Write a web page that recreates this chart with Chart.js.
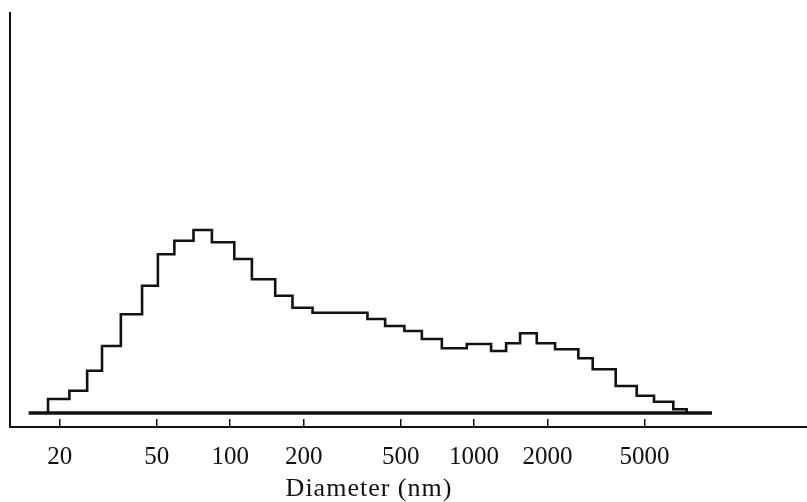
<!DOCTYPE html>
<html>
<head>
<meta charset="utf-8">
<script src="https://cdn.jsdelivr.net/npm/chart.js@4.4.1/dist/chart.umd.min.js"></script>
<style>
  body { margin: 0; background: #fff; }
  #wrap { width: 807px; height: 502px; }
</style>
</head>
<body>
<div id="wrap"><canvas id="myChart" width="807" height="502"></canvas></div>
<script>
// bin left edges (nm) and bin heights (arbitrary units), last edge closes the histogram
const binEdges = [17.9, 21.9, 25.9, 29.8, 35.6, 43.5, 50.5, 59.0, 70.7, 84.1, 103.9, 122.7, 152.9, 180.0, 217.5, 365.3, 431.7, 518.0, 610.6, 737.5, 933.4, 1174, 1353, 1544, 1807, 2148, 2676, 3065, 3808, 4644, 5467, 6559, 7441]
const binHeights = [14, 22.3, 42.3, 67, 98.7, 127.3, 158.7, 172.3, 183, 170.7, 154, 133.7, 117.3, 105.3, 100.3, 94, 87, 82, 74, 64.7, 69, 62, 69.7, 79.7, 69.7, 63.7, 54.7, 43.7, 27, 17.3, 11.3, 3.7, 0]
const baselineRange = [14.9, 9450]
const tickValues = [20, 50, 100, 200, 500, 1000, 2000, 5000]

const histPoints = [{ x: binEdges[0], y: 0 }]
binEdges.forEach((edge, i) => {
  histPoints.push({ x: edge, y: binHeights[i] })
})
const basePoints = baselineRange.map(v => ({ x: v, y: 0 }))

const axisTitle = {
  id: 'axisTitle',
  afterDraw(chart) {
    const ctx = chart.ctx
    ctx.save()
    ctx.fillStyle = '#111'
    ctx.font = '26px "Liberation Serif"'
    ctx.letterSpacing = '1px'
    ctx.textAlign = 'center'
    ctx.textBaseline = 'middle'
    ctx.fillText('Diameter (nm)', 369, 489)
    ctx.restore()
  }
}

const ctx = document.getElementById('myChart').getContext('2d')
new Chart(ctx, {
  type: 'line',
  data: {
    datasets: [
      {
        data: histPoints,
        stepped: true,
        borderColor: '#111',
        borderWidth: 2.6,
        pointRadius: 0,
        fill: false
      },
      {
        data: basePoints,
        borderColor: '#111',
        borderWidth: 3.5,
        pointRadius: 0,
        fill: false
      }
    ]
  },
  options: {
    responsive: false,
    animation: false,
    devicePixelRatio: 1,
    layout: { padding: { left: 10, right: 0, top: 13, bottom: 7 } },
    plugins: {
      legend: { display: false },
      tooltip: { enabled: false }
    },
    scales: {
      x: {
        type: 'logarithmic',
        min: 12.5,
        max: 23180,
        afterBuildTicks: scale => {
          scale.ticks = tickValues.map(v => ({ value: v }))
        },
        ticks: {
          autoSkip: false,
          maxRotation: 0,
          padding: 23,
          color: '#111',
          font: { family: '"Liberation Serif"', size: 25 },
          callback: value => String(value)
        },
        grid: {
          display: true,
          drawOnChartArea: false,
          drawTicks: true,
          tickLength: -8,
          color: '#111',
          lineWidth: 1.5
        },
        border: { display: true, color: '#111', width: 2 }
      },
      y: {
        min: -14,
        max: 400,
        ticks: { display: false },
        grid: { display: false, drawTicks: false },
        border: { display: true, color: '#111', width: 2 }
      }
    }
  },
  plugins: [axisTitle]
})
</script>
</body>
</html>
